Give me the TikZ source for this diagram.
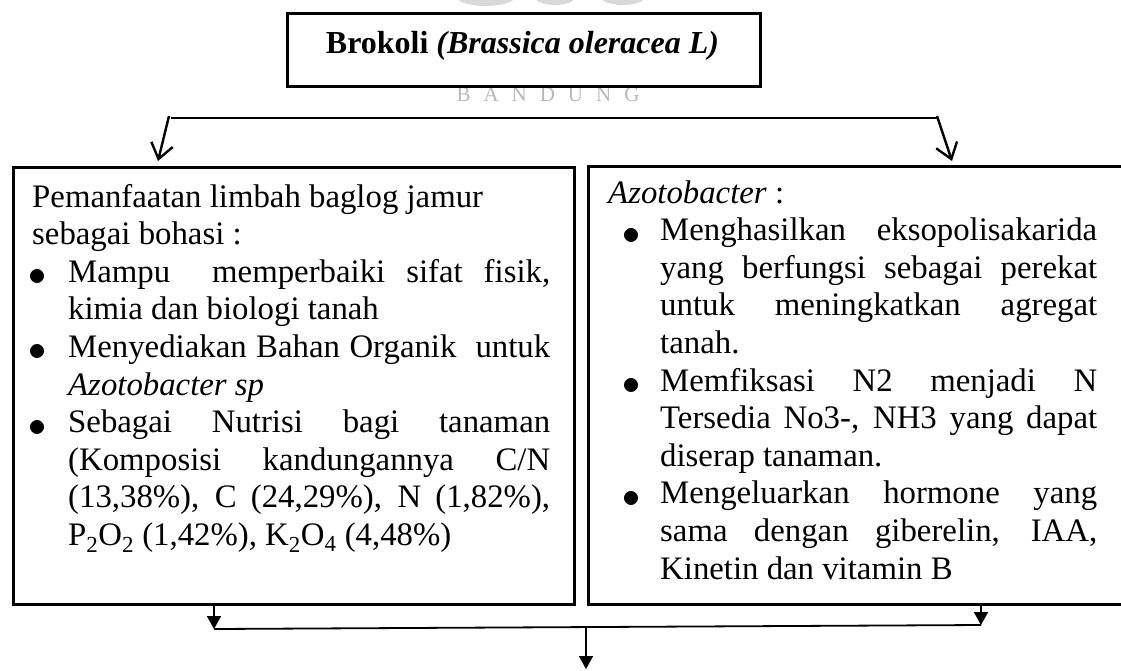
\documentclass[tikz,border=0pt]{standalone}
\usepackage{graphicx}
\usepackage{fontspec}
\setmainfont{Liberation Serif}
\usetikzlibrary{arrows.meta}
\newcommand{\bul}{\raisebox{-3.5pt}{\scalebox{1.45}{$\bullet$}}}
\newcommand{\bitem}[3]{\par\noindent\hangindent=#2\hangafter=1\makebox[#2][l]{\hspace*{#1}\bul}#3\par}
\newcommand{\jsetup}{\tolerance=10000\hyphenpenalty=10000\spaceskip=0.25em plus 2em minus 0.05em\relax}
\tikzset{
  box/.style={draw, line width=2.6pt, inner sep=0pt, anchor=north west},
  txt/.style={inner sep=0pt, anchor=base west, align=justify, font=\fontsize{32.8pt}{37.6pt}\selectfont},
  ttl/.style={inner sep=0pt, anchor=base, font=\fontsize{32pt}{38pt}\selectfont\bfseries},
  topline/.style={line width=2.6pt},
  toparrow/.style={line width=2.4pt, -{Straight Barb[length=15pt,width=22pt]}},
  botline/.style={line width=1.8pt},
  botarrow/.style={line width=1.8pt, -{Triangle[length=13pt,width=14pt]}},
  wm/.style={inner sep=0pt, anchor=base, text=black!28, font=\fontsize{21pt}{24pt}\selectfont},
  wmfill/.style={fill=black!15}
}
\begin{document}
\begin{tikzpicture}[x=1pt,y=-1pt]
\useasboundingbox (0,0) rectangle (1121,670);
% faint watermark
\fill[wmfill] (486,-3) ellipse [x radius=29, y radius=9];
\fill[wmfill] (555,-3) ellipse [x radius=20, y radius=8];
\fill[wmfill] (623,-3) ellipse [x radius=22, y radius=8];
\node[wm] (wmark) at (548,101) {\makebox[183pt][s]{B A N D U N G}};
% title
\node[box, minimum width=473pt, minimum height=73pt] (tbox) at (286,12) {};
\node[ttl] (title) at (522.5,53) {Brokoli \textit{(Brassica oleracea L)}};
% boxes
\node[box, minimum width=561pt, minimum height=437pt] (lbox) at (12,166) {};
\node[box, minimum width=540pt, minimum height=438pt] (rbox) at (587,165) {};
% left text
\node[txt, text width=518pt] (ltext) at (32,207) {\jsetup
Pemanfaatan limbah baglog jamur\newline sebagai bohasi :\par
\bitem{-4pt}{36pt}{Mampu\ \ memperbaiki sifat fisik,\linebreak kimia dan biologi tanah}
\bitem{-4pt}{36pt}{Menyediakan Bahan Organik\ \ untuk\linebreak \textit{Azotobacter sp}}
\bitem{-4pt}{36pt}{Sebagai Nutrisi bagi tanaman\linebreak (Komposisi kandungannya C/N\linebreak (13,38\%), C (24,29\%), N (1,82\%),\linebreak P\textsubscript{2}O\textsubscript{2} (1,42\%), K\textsubscript{2}O\textsubscript{4} (4,48\%)}
};
% right text
\node[txt, text width=489pt] (rtext) at (608,203) {\jsetup
\textit{Azotobacter} :\par
\bitem{14pt}{52pt}{Menghasilkan eksopolisakarida\linebreak yang berfungsi sebagai perekat\linebreak untuk meningkatkan agregat\linebreak tanah.}
\bitem{14pt}{52pt}{Memfiksasi N2 menjadi N\linebreak Tersedia No3-, NH3 yang dapat\linebreak diserap tanaman.}
\bitem{14pt}{52pt}{Mengeluarkan hormone yang\linebreak sama dengan giberelin, IAA,\linebreak Kinetin dan vitamin B}
};
% top connectors
\coordinate (hl) at (171,118);
\coordinate (hr) at (937,118);
\coordinate (al0) at (169,116);
\coordinate (alt) at (158,161);
\coordinate (ar0) at (937,116);
\coordinate (art) at (952,161);
\draw[topline] (hl) -- (hr);
\draw[toparrow] (al0) -- (alt);
\draw[toparrow] (ar0) -- (art);
% bottom connectors
\coordinate (bl) at (214,629);
\coordinate (br) at (981,625);
\coordinate (bm) at (586,627);
\coordinate (bend) at (586,669);
\draw[botarrow] (lbox.south -| bl) -- (bl);
\draw[botarrow] (rbox.south -| br) -- (br);
\draw[botline] (bl) -- (br);
\draw[botarrow] (bm) -- (bend);
\end{tikzpicture}
\end{document}
